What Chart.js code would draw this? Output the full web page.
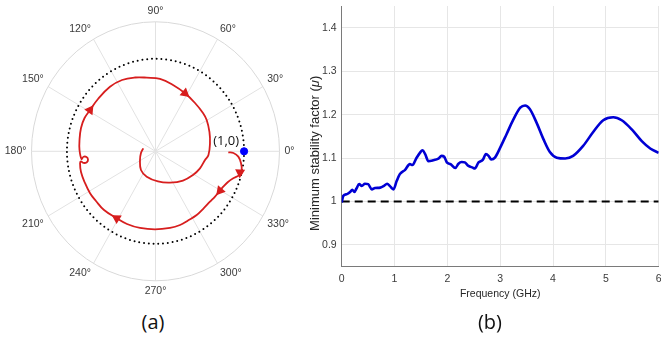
<!DOCTYPE html>
<html>
<head>
<meta charset="utf-8">
<script src="https://cdn.jsdelivr.net/npm/chart.js@4.4.1/dist/chart.umd.min.js"></script>
<style>
body { margin: 0; background: #fff; width: 661px; height: 340px; overflow: hidden; position: relative; }
#polarWrap { position: absolute; left: 0; top: 0; width: 330px; height: 300px; }
#lineWrap { position: absolute; left: 300px; top: 0; width: 361px; height: 305px; }
.tag { position: absolute; top: 312px; width: 60px; text-align: center; font-family: 'Open Sans', sans-serif; font-size: 20px; line-height: 20px; color: #111; }
</style>
</head>
<body>
<div id="polarWrap"><canvas id="polarChart"></canvas></div>
<div id="lineWrap"><canvas id="lineChart"></canvas></div>
<div class="tag" style="left:123px">(a)</div>
<div class="tag" style="left:460px">(b)</div>
<script>
// (a) Nyquist trace: real / imaginary parts
var nyqRe = [0.822, 0.880, 0.935, 0.965, 0.973, 0.954, 0.971, 0.931, 0.878, 0.818,
  0.765, 0.728, 0.672, 0.615, 0.536, 0.465, 0.367, 0.277, 0.164, -0.006,
  -0.175, -0.322, -0.438, -0.581, -0.672, -0.739, -0.801, -0.841, -0.852, -0.841,
  -0.813, -0.775, -0.762, -0.779, -0.813, -0.835, -0.858, -0.858, -0.841, -0.801,
  -0.739, -0.649, -0.514, -0.378, -0.231, -0.099, 0.051, 0.198, 0.333, 0.446,
  0.536, 0.578, 0.609, 0.615, 0.598, 0.559, 0.502, 0.423, 0.310, 0.164,
  0.028, -0.099, -0.164, -0.175, -0.164, -0.138]
var nyqIm = [-0.011, -0.018, -0.058, -0.126, -0.202, -0.229, -0.240, -0.267, -0.292, -0.332,
  -0.383, -0.426, -0.489, -0.545, -0.624, -0.689, -0.748, -0.797, -0.829, -0.845,
  -0.829, -0.786, -0.724, -0.635, -0.537, -0.454, -0.332, -0.224, -0.130, -0.110,
  -0.126, -0.118, -0.089, -0.062, -0.059, -0.083, 0.014, 0.122, 0.252, 0.360,
  0.446, 0.565, 0.698, 0.771, 0.798, 0.796, 0.782, 0.717, 0.627, 0.522,
  0.414, 0.338, 0.209, 0.086, -0.040, -0.094, -0.184, -0.256, -0.316, -0.339,
  -0.326, -0.275, -0.202, -0.094, -0.018, 0.032]
var arrowIdx = [5, 11, 22, 40, 48]
var criticalPoint = [1, 0]
var angleTicks = [0, 30, 60, 90, 120, 150, 180, 210, 240, 270, 300, 330]
var rMax = 1.4

// (b) minimum stability factor vs frequency
var freq = [0, 0.03, 0.1, 0.16, 0.2, 0.24, 0.28, 0.33, 0.38, 0.44,
  0.5, 0.57, 0.63, 0.73, 0.8, 0.86, 0.91, 0.98, 1.04, 1.1,
  1.2, 1.29, 1.34, 1.41, 1.48, 1.53, 1.58, 1.64, 1.73, 1.83,
  1.89, 1.94, 1.99, 2.06, 2.15, 2.21, 2.27, 2.33, 2.4, 2.48,
  2.52, 2.59, 2.67, 2.73, 2.78, 2.83, 2.9, 3.0, 3.12, 3.25,
  3.38, 3.47, 3.56, 3.69, 3.82, 3.94, 4.07, 4.23, 4.38, 4.57,
  4.76, 4.95, 5.14, 5.3, 5.49, 5.68, 5.84, 6.0]
var muMin = [0.998, 1.013, 1.017, 1.022, 1.027, 1.022, 1.030, 1.040, 1.036, 1.041,
  1.040, 1.028, 1.031, 1.032, 1.036, 1.041, 1.036, 1.028, 1.047, 1.063,
  1.073, 1.086, 1.084, 1.099, 1.112, 1.118, 1.109, 1.093, 1.095, 1.099,
  1.105, 1.103, 1.090, 1.086, 1.077, 1.087, 1.091, 1.090, 1.082, 1.078,
  1.076, 1.090, 1.096, 1.109, 1.105, 1.097, 1.101, 1.124, 1.155, 1.189,
  1.216, 1.221, 1.213, 1.181, 1.143, 1.114, 1.101, 1.099, 1.105, 1.128,
  1.160, 1.187, 1.194, 1.187, 1.166, 1.139, 1.122, 1.112]
var muLimit = 1
var freqTicks = [0, 1, 2, 3, 4, 5, 6]
var muTicks = [0.9, 1, 1.1, 1.2, 1.3, 1.4]

var tickFont = { family: "'Liberation Sans', Arial, sans-serif", size: 10.5 }
var tickColor = '#3a3a3a'

// polar grid, unit circle and angle labels for (a)
var polarGrid = {
  id: 'polarGrid',
  beforeDatasetsDraw: function (chart) {
    var ctx = chart.ctx, sx = chart.scales.x, sy = chart.scales.y
    var cx = sx.getPixelForValue(0), cy = sy.getPixelForValue(0)
    var rx = sx.getPixelForValue(rMax) - cx, ry = cy - sy.getPixelForValue(rMax)
    ctx.save()
    ctx.strokeStyle = '#e2e2e2'
    ctx.lineWidth = 1
    angleTicks.forEach(function (a) {
      var t = a * Math.PI / 180
      ctx.beginPath()
      ctx.moveTo(cx, cy)
      ctx.lineTo(cx + rx * Math.cos(t), cy - ry * Math.sin(t))
      ctx.stroke()
    })
    ctx.strokeStyle = '#d9d9d9'
    ctx.beginPath()
    ctx.ellipse(cx, cy, rx, ry, 0, 0, 2 * Math.PI)
    ctx.stroke()

    // unit circle, dotted
    var ux = sx.getPixelForValue(1) - cx, uy = cy - sy.getPixelForValue(1)
    ctx.strokeStyle = '#000'
    ctx.lineWidth = 2
    ctx.lineCap = 'round'
    ctx.setLineDash([0, 4.8])
    ctx.beginPath()
    ctx.ellipse(cx, cy, ux, uy, 0, 0, 2 * Math.PI)
    ctx.stroke()
    ctx.setLineDash([])

    // angle labels
    ctx.fillStyle = tickColor
    ctx.font = '10.5px ' + tickFont.family
    angleTicks.forEach(function (a) {
      var t = a * Math.PI / 180, c = Math.cos(t), s = Math.sin(t)
      var gx = cx + (rx + 5) * c, gy = cy - (ry + 5) * s
      ctx.textAlign = c > 0.1 ? 'left' : (c < -0.1 ? 'right' : 'center')
      ctx.textBaseline = s > 0.1 ? 'bottom' : (s < -0.1 ? 'top' : 'middle')
      ctx.fillText(a + '°', gx, gy)
    })
    ctx.restore()
  },
  afterDatasetsDraw: function (chart) {
    var ctx = chart.ctx, sx = chart.scales.x, sy = chart.scales.y
    var px = sx.getPixelForValue(criticalPoint[0]), py = sy.getPixelForValue(criticalPoint[1])
    ctx.save()
    ctx.fillStyle = '#111'
    ctx.font = "13px 'Open Sans', sans-serif"
    ctx.textAlign = 'right'
    ctx.textBaseline = 'alphabetic'
    ctx.fillText('(1,0)', px - 5, py - 6)
    ctx.restore()
  }
}

function arrowRotation(c) {
  var d = c.dataset.data, i = c.dataIndex
  var a = d[Math.max(i - 1, 0)], b = d[Math.min(i + 1, d.length - 1)]
  var sx = c.chart.scales.x, sy = c.chart.scales.y
  var dx = sx.getPixelForValue(b.x) - sx.getPixelForValue(a.x)
  var dy = sy.getPixelForValue(b.y) - sy.getPixelForValue(a.y)
  return Math.atan2(dx, -dy) * 180 / Math.PI
}

new Chart(document.getElementById('polarChart'), {
  type: 'scatter',
  data: {
    datasets: [{
      data: nyqRe.map(function (r, i) { return { x: r, y: nyqIm[i] } }),
      showLine: true,
      borderColor: '#d71e1e',
      backgroundColor: '#d71e1e',
      borderWidth: 1.8,
      tension: 0.4,
      pointStyle: 'triangle',
      pointRadius: function (c) { return arrowIdx.indexOf(c.dataIndex) >= 0 ? 4 : 0 },
      pointRotation: arrowRotation,
      clip: false
    }, {
      data: [{ x: criticalPoint[0], y: criticalPoint[1] }],
      pointRadius: 3.6,
      backgroundColor: '#0000ff',
      borderColor: '#0000ff',
      clip: false
    }]
  },
  options: {
    animation: false,
    responsive: true,
    maintainAspectRatio: false,
    layout: { padding: { left: 31.5, right: 50.5, top: 21.8, bottom: 19.2 } },
    plugins: { legend: { display: false }, tooltip: { enabled: false } },
    scales: {
      x: { type: 'linear', min: -rMax, max: rMax, display: false },
      y: { type: 'linear', min: -rMax, max: rMax, display: false }
    }
  },
  plugins: [polarGrid]
})

// y title for (b) with italic mu
var muTitle = {
  id: 'muTitle',
  afterDraw: function (chart) {
    var ctx = chart.ctx, a = chart.chartArea
    var parts = [['Minimum stability factor (', ''], ['\u03bc', 'italic '], [')', '']]
    var size = '13px '
    ctx.save()
    ctx.translate(15, (a.top + a.bottom) / 2 + 17)
    ctx.rotate(-Math.PI / 2)
    ctx.fillStyle = '#262626'
    ctx.textBaseline = 'middle'
    var total = 0
    parts.forEach(function (p) {
      ctx.font = p[1] + size + tickFont.family
      total += ctx.measureText(p[0]).width
    })
    var x = -total / 2
    parts.forEach(function (p) {
      ctx.font = p[1] + size + tickFont.family
      ctx.fillText(p[0], x, 0)
      x += ctx.measureText(p[0]).width
    })
    ctx.restore()
  }
}

new Chart(document.getElementById('lineChart'), {
  type: 'line',
  data: {
    datasets: [{
      data: freq.map(function (f, i) { return { x: f, y: muMin[i] } }),
      borderColor: '#0000d4',
      borderWidth: 2.6,
      pointRadius: 0,
      cubicInterpolationMode: 'monotone'
    }, {
      data: [{ x: freqTicks[0], y: muLimit }, { x: freqTicks[freqTicks.length - 1], y: muLimit }],
      borderColor: '#000',
      borderWidth: 2,
      borderDash: [8, 5],
      pointRadius: 0
    }]
  },
  options: {
    animation: false,
    responsive: true,
    maintainAspectRatio: false,
    layout: { padding: { left: 0, right: 2.3, top: 6, bottom: 0 } },
    plugins: { legend: { display: false }, tooltip: { enabled: false } },
    scales: {
      x: {
        type: 'linear', min: 0, max: 6,
        afterBuildTicks: function (s) { s.ticks = freqTicks.map(function (v) { return { value: v } }) },
        afterFit: function (s) { s.height = 38.3; s.paddingLeft = 0; s.paddingRight = 0 },
        grid: { color: '#e6e6e6', drawTicks: false },
        border: { color: '#7a7a7a' },
        ticks: { padding: 6, color: tickColor, font: tickFont, maxRotation: 0 },
        title: { display: true, text: 'Frequency (GHz)', color: '#262626', font: tickFont, padding: { top: 0, bottom: 4.5 } }
      },
      y: {
        min: 0.85, max: 1.45,
        afterBuildTicks: function (s) { s.ticks = muTicks.map(function (v) { return { value: v } }) },
        afterFit: function (s) { s.width = 41.7; s.paddingTop = 0; s.paddingBottom = 0 },
        grid: { color: '#e6e6e6', drawTicks: false },
        border: { color: '#7a7a7a' },
        ticks: {
          padding: 5, color: tickColor, font: tickFont,
          callback: function (v) { return String(Math.round(v * 10) / 10) }
        }
      }
    }
  },
  plugins: [muTitle]
})
</script>
</body>
</html>
